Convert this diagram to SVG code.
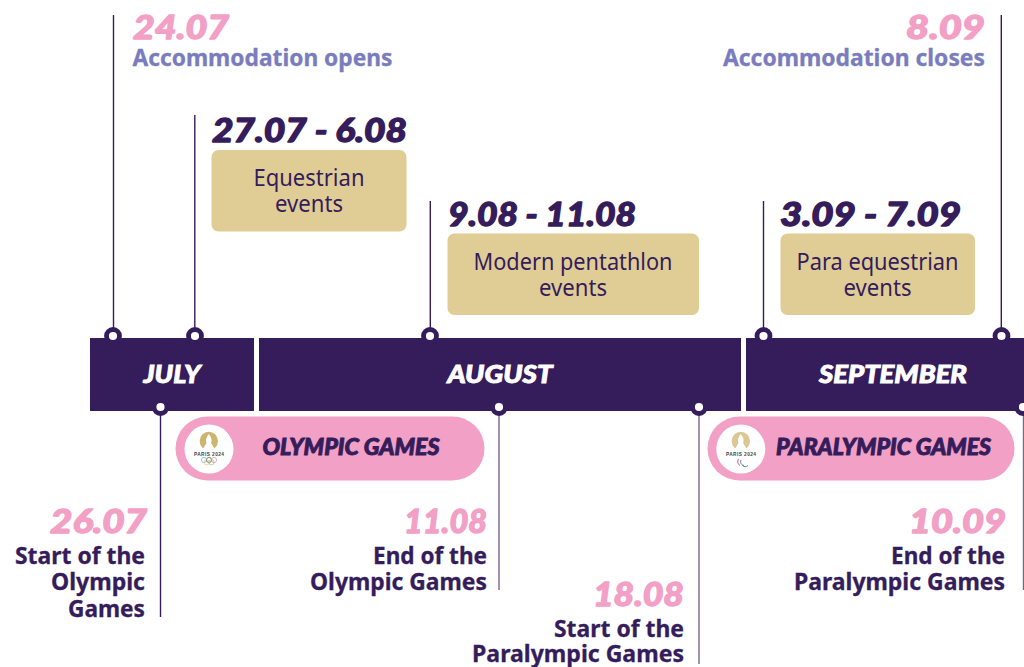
<svg xmlns="http://www.w3.org/2000/svg" width="1024" height="667" viewBox="0 0 1024 667">
<style>
.ln{stroke:#351c5b;stroke-width:1.4;fill:none}
.ln2{stroke:#7a6391;stroke-width:1.4;fill:none}
.dot{fill:#fff;stroke:#351c5b;stroke-width:4.800}
.bar{fill:#351c5b}
.box{fill:#e0cd96}
.pill{fill:#f2a0c5}
text{font-family:"Lato","Liberation Sans",sans-serif}
.date{font-weight:900;font-style:italic;font-size:33px;stroke-width:1.300;stroke-linejoin:round}
.pk{fill:#f2a0c5;stroke:#f2a0c5}
.dk{fill:#351c5b;stroke:#351c5b}
.mon{fill:#fff;stroke:#fff;stroke-width:.9;font-weight:900;font-style:italic;font-size:25px}
.pt{fill:#351c5b;stroke:#351c5b;stroke-width:.9;font-weight:900;font-style:italic;font-size:22px}
.lab{font-family:"Noto Sans","Liberation Sans",sans-serif;font-weight:700;font-size:23px;stroke-width:.3}
.evt{font-family:"Noto Sans","Liberation Sans",sans-serif;font-size:23px;fill:#351c5b;text-anchor:middle}
.pu{fill:#7a7dbd;stroke:#7a7dbd}
.e{text-anchor:end}
.m{text-anchor:middle}
.ring{fill:none;stroke-width:.7}
.sm{font-family:"Liberation Sans",sans-serif;font-size:4.800px;font-weight:700;fill:#444;text-anchor:middle}
.fl{fill:#fff}
</style>
<g id="connectors">
<line class="ln" x1="113.500" y1="15" x2="113.500" y2="334"/>
<line class="ln" x1="194.800" y1="115" x2="194.800" y2="334"/>
<line class="ln" x1="430.300" y1="201" x2="430.300" y2="334"/>
<line class="ln" x1="763.500" y1="201" x2="763.500" y2="334"/>
<line class="ln" x1="1001.300" y1="15" x2="1001.300" y2="334"/>
<line class="ln" x1="160.500" y1="407" x2="160.500" y2="617"/>
<line class="ln2" x1="499" y1="407" x2="499" y2="590"/>
<line class="ln2" x1="699" y1="407" x2="699" y2="664"/>
<line class="ln2" x1="1023.500" y1="407" x2="1023.500" y2="590"/>
</g>
<g id="month-july"><rect class="bar" x="90" y="338" width="164" height="73"/><text class="mon m" x="172" y="383" textLength="57" lengthAdjust="spacingAndGlyphs">JULY</text></g>
<g id="month-august"><rect class="bar" x="259" y="338" width="482" height="73"/><text class="mon m" x="500" y="383" textLength="105" lengthAdjust="spacingAndGlyphs">AUGUST</text></g>
<g id="month-september"><rect class="bar" x="746" y="338" width="278" height="73"/><text class="mon m" x="893" y="383" textLength="148" lengthAdjust="spacingAndGlyphs">SEPTEMBER</text></g>
<g id="markers">
<circle class="dot" cx="113" cy="336" r="6.500"/><circle class="dot" cx="195" cy="336" r="6.500"/><circle class="dot" cx="430" cy="336" r="6.500"/><circle class="dot" cx="763.500" cy="336" r="6.500"/><circle class="dot" cx="1001.500" cy="336" r="6.500"/>
<circle class="dot" cx="160.500" cy="407" r="6.500"/><circle class="dot" cx="499" cy="407" r="6.500"/><circle class="dot" cx="699" cy="407" r="6.500"/><circle class="dot" cx="1023" cy="407" r="6.500"/>
</g>
<g id="olympic-games">
<rect class="pill" x="175.500" y="416.500" width="309" height="64" rx="32"/>
<circle cx="209" cy="449" r="24.500" fill="#fff"/>
<circle cx="208.800" cy="441" r="9.200" fill="#cdb46f"/>
<path class="fl" d="M208.800 434c-2.500 3-3.500 6-2.300 9l-4.500 7.500h13.600l-4.500-7.500c1.200-3 .2-6-2.300-9z"/>
<text class="sm" x="209" y="455.700" textLength="30" lengthAdjust="spacing">PARIS 2024</text>
<g class="ring"><circle cx="204" cy="460" r="2.600" stroke="#6fa8dc"/><circle cx="209" cy="460" r="2.600" stroke="#555"/><circle cx="214" cy="460" r="2.600" stroke="#e58a8a"/><circle cx="206.500" cy="462.300" r="2.600" stroke="#f0c36d"/><circle cx="211.500" cy="462.300" r="2.600" stroke="#8cc08c"/></g>
<text class="pt m" x="351" y="455" textLength="177" lengthAdjust="spacingAndGlyphs">OLYMPIC GAMES</text>
</g>
<g id="paralympic-games">
<rect class="pill" x="707.500" y="416.500" width="307" height="64" rx="32"/>
<circle cx="740.800" cy="449" r="24.500" fill="#fff"/>
<circle cx="740.800" cy="441" r="9.200" fill="#dcc693"/>
<path class="fl" d="M740.800 434c-2.500 3-3.500 6-2.300 9l-4.500 7.500h13.600l-4.500-7.500c1.200-3 .2-6-2.300-9z"/>
<text class="sm" x="741" y="455.700" textLength="30" lengthAdjust="spacing">PARIS 2024</text>
<path d="M738.500 459c-1.500 3-.5 5.500 1.500 6.500" stroke="#d9534f" fill="none"/><path d="M741 460c-1 2.500 0 5 3 5.500" stroke="#4a7fc1" fill="none"/><path d="M742.500 465.500c1.500 1.500 4 1.500 5.500 0" stroke="#4aa564" fill="none"/>
<text class="pt m" x="883.500" y="455" textLength="215" lengthAdjust="spacingAndGlyphs">PARALYMPIC GAMES</text>
</g>
<g id="accommodation-opens">
<text class="date pk" x="133" y="39" textLength="96" lengthAdjust="spacingAndGlyphs">24.07</text>
<text class="lab pu" x="132.500" y="66" textLength="260" lengthAdjust="spacingAndGlyphs">Accommodation opens</text>
</g>
<g id="accommodation-closes">
<text class="date pk e" x="985" y="39" textLength="79" lengthAdjust="spacingAndGlyphs">8.09</text>
<text class="lab pu e" x="985" y="66" textLength="262" lengthAdjust="spacingAndGlyphs">Accommodation closes</text>
</g>
<g id="equestrian">
<text class="date dk" x="212" y="142" textLength="195" lengthAdjust="spacingAndGlyphs">27.07 - 6.08</text>
<rect class="box" x="211.500" y="150" width="195" height="81.500" rx="7"/>
<text class="evt" x="309" y="186" textLength="111" lengthAdjust="spacingAndGlyphs">Equestrian</text>
<text class="evt" x="309" y="212" textLength="68" lengthAdjust="spacingAndGlyphs">events</text>
</g>
<g id="modern-pentathlon">
<text class="date dk" x="448" y="226" textLength="188" lengthAdjust="spacingAndGlyphs">9.08 - 11.08</text>
<rect class="box" x="447.500" y="233.500" width="251.500" height="81.500" rx="7"/>
<text class="evt" x="573" y="270" textLength="199" lengthAdjust="spacingAndGlyphs">Modern pentathlon</text>
<text class="evt" x="573" y="296" textLength="68" lengthAdjust="spacingAndGlyphs">events</text>
</g>
<g id="para-equestrian">
<text class="date dk" x="780" y="226" textLength="181" lengthAdjust="spacingAndGlyphs">3.09 - 7.09</text>
<rect class="box" x="780.500" y="233.500" width="194.500" height="81.500" rx="7"/>
<text class="evt" x="877.500" y="270" textLength="162" lengthAdjust="spacingAndGlyphs">Para equestrian</text>
<text class="evt" x="877.500" y="296" textLength="68" lengthAdjust="spacingAndGlyphs">events</text>
</g>
<g id="start-olympic">
<text class="date pk e" x="147" y="533" textLength="97" lengthAdjust="spacingAndGlyphs">26.07</text>
<text class="lab dk e" x="145" y="564" textLength="130" lengthAdjust="spacingAndGlyphs">Start of the</text>
<text class="lab dk e" x="145" y="590" textLength="94" lengthAdjust="spacingAndGlyphs">Olympic</text>
<text class="lab dk e" x="145" y="617" textLength="77" lengthAdjust="spacingAndGlyphs">Games</text>
</g>
<g id="end-olympic">
<text class="date pk e" x="487" y="533" textLength="83" lengthAdjust="spacingAndGlyphs">11.08</text>
<text class="lab dk e" x="487" y="564" textLength="114" lengthAdjust="spacingAndGlyphs">End of the</text>
<text class="lab dk e" x="487" y="590" textLength="177" lengthAdjust="spacingAndGlyphs">Olympic Games</text>
</g>
<g id="start-paralympic">
<text class="date pk e" x="684" y="606" textLength="91" lengthAdjust="spacingAndGlyphs">18.08</text>
<text class="lab dk e" x="684" y="637" textLength="130" lengthAdjust="spacingAndGlyphs">Start of the</text>
<text class="lab dk e" x="684" y="662" textLength="212" lengthAdjust="spacingAndGlyphs">Paralympic Games</text>
</g>
<g id="end-paralympic">
<text class="date pk e" x="1006" y="533" textLength="97" lengthAdjust="spacingAndGlyphs">10.09</text>
<text class="lab dk e" x="1005" y="564" textLength="114" lengthAdjust="spacingAndGlyphs">End of the</text>
<text class="lab dk e" x="1005" y="590" textLength="211" lengthAdjust="spacingAndGlyphs">Paralympic Games</text>
</g>
</svg>
